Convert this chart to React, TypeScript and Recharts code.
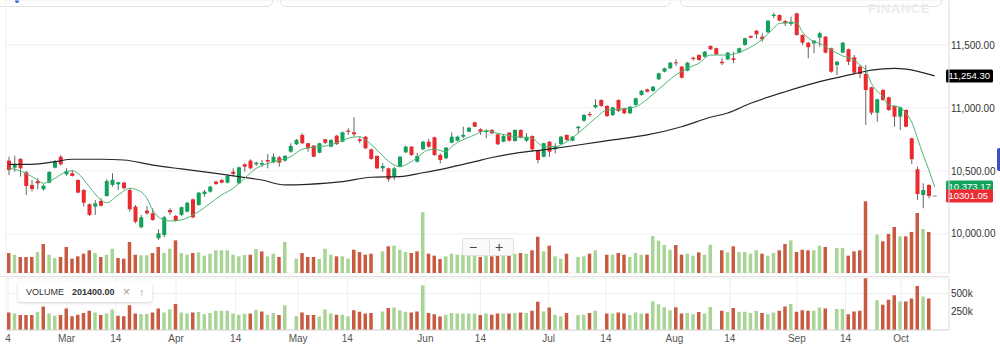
import React from 'react';
import {
  ComposedChart,
  Bar,
  Line,
  XAxis,
  YAxis,
  CartesianGrid,
  ReferenceLine,
  Cell,
} from 'recharts';

// daily candles, index 0 = first visible session (mid Feb)
const opens = [
  10582, 10526, 10595, 10490, 10389, 10420, 10355, 10407, 10526, 10613,
  10474, 10482, 10428, 10349, 10236, 10217, 10262, 10301, 10389, 10394,
  10407, 10349, 10217, 10053, 10185, 10164, 9966, 9992, 10190, 10143,
  10151, 10177, 10275, 10230, 10317, 10336, 10415, 10428, 10407, 10494,
  10402, 10553, 10582, 10553, 10550, 10587, 10569, 10608, 10582, 10653,
  10712, 10786, 10720, 10701, 10645, 10751, 10693, 10780, 10732, 10820,
  10807, 10751, 10772, 10672, 10619, 10521, 10521, 10455, 10534, 10648,
  10693, 10574, 10672, 10732, 10767, 10627, 10601, 10724, 10740, 10772,
  10812, 10886, 10831, 10809, 10825, 10791, 10732, 10804, 10738, 10825,
  10740, 10777, 10659, 10613, 10732, 10672, 10714, 10786, 10740, 10839,
  10899, 10952, 11005, 11063, 11016, 10944, 11063, 10997, 10958, 11024,
  11103, 11148, 11135, 11228, 11288, 11315, 11362, 11328, 11296, 11399,
  11420, 11407, 11492, 11474, 11367, 11386, 11394, 11439, 11500, 11571,
  11613, 11566, 11601, 11730, 11738, 11690, 11667, 11751, 11579, 11518,
  11513, 11558, 11566, 11474, 11341, 11439, 11466, 11402, 11328, 11270,
  11164, 10962, 11143, 11085, 11016, 10931, 10984, 10759, 10513, 10309,
  10389, 10301.05,
];
const highs = [
  10613, 10621, 10603, 10500, 10428, 10442, 10394, 10498, 10587, 10627,
  10521, 10508, 10434, 10357, 10243, 10270, 10283, 10434, 10482, 10415,
  10415, 10363, 10230, 10151, 10222, 10204, 10037, 10143, 10204, 10151,
  10217, 10254, 10280, 10333, 10349, 10381, 10423, 10436, 10468, 10521,
  10534, 10561, 10593, 10574, 10587, 10635, 10640, 10619, 10627, 10720,
  10754, 10799, 10724, 10706, 10724, 10756, 10751, 10786, 10812, 10839,
  10926, 10772, 10778, 10677, 10624, 10561, 10526, 10534, 10619, 10701,
  10698, 10643, 10740, 10754, 10772, 10640, 10690, 10807, 10780, 10851,
  10849, 10891, 10839, 10831, 10833, 10796, 10786, 10809, 10831, 10831,
  10799, 10783, 10664, 10724, 10738, 10720, 10778, 10791, 10778, 10859,
  10952, 10970, 11069, 11069, 11021, 11010, 11069, 11002, 11016, 11082,
  11143, 11153, 11174, 11280, 11320, 11365, 11386, 11333, 11365, 11407,
  11426, 11452, 11497, 11479, 11394, 11444, 11447, 11479, 11558, 11577,
  11619, 11593, 11698, 11756, 11743, 11698, 11725, 11756, 11585, 11524,
  11539, 11605, 11571, 11479, 11373, 11524, 11471, 11420, 11341, 11341,
  11169, 11074, 11148, 11090, 11021, 11010, 10989, 10764, 10534, 10402,
  10394, 10301.05,
];
const lows = [
  10468, 10494, 10455, 10309, 10336, 10355, 10344, 10402, 10521, 10542,
  10462, 10455, 10323, 10217, 10143, 10151, 10217, 10296, 10375, 10349,
  10355, 10177, 10085, 10045, 10151, 10105, 9952, 9974, 10151, 10097,
  10143, 10172, 10124, 10224, 10296, 10328, 10389, 10402, 10402, 10455,
  10397, 10494, 10513, 10539, 10534, 10521, 10561, 10534, 10574, 10645,
  10706, 10714, 10653, 10608, 10640, 10714, 10688, 10706, 10728, 10786,
  10772, 10720, 10674, 10589, 10516, 10494, 10415, 10428, 10529, 10643,
  10619, 10566, 10666, 10682, 10619, 10561, 10595, 10720, 10735, 10759,
  10807, 10847, 10786, 10759, 10793, 10706, 10728, 10735, 10732, 10759,
  10732, 10653, 10561, 10608, 10613, 10640, 10709, 10738, 10735, 10804,
  10891, 10931, 10997, 11008, 10928, 10936, 10968, 10952, 10952, 11018,
  11097, 11124, 11129, 11222, 11283, 11309, 11333, 11235, 11291, 11375,
  11375, 11402, 11460, 11420, 11341, 11381, 11355, 11434, 11494, 11553,
  11553, 11526, 11595, 11712, 11688, 11651, 11651, 11574, 11500, 11394,
  11434, 11486, 11434, 11280, 11262, 11434, 11341, 11270, 11236, 10865,
  10944, 10891, 11058, 10978, 10851, 10825, 10847, 10555, 10270, 10204,
  10283, 10301.05,
];
const closes = [
  10508, 10547, 10521, 10381, 10357, 10402, 10383, 10492, 10579, 10553,
  10500, 10460, 10328, 10248, 10151, 10243, 10224, 10420, 10430, 10410,
  10363, 10196, 10097, 10132, 10164, 10111, 10005, 10132, 10172, 10105,
  10212, 10248, 10132, 10328, 10336, 10375, 10397, 10407, 10460, 10476,
  10529, 10534, 10521, 10566, 10562, 10574, 10613, 10566, 10619, 10698,
  10746, 10720, 10680, 10613, 10720, 10724, 10746, 10714, 10807, 10810,
  10791, 10738, 10680, 10595, 10521, 10539, 10434, 10521, 10613, 10693,
  10627, 10619, 10732, 10693, 10627, 10587, 10685, 10772, 10772, 10786,
  10843, 10851, 10812, 10820, 10799, 10712, 10777, 10740, 10825, 10764,
  10772, 10672, 10587, 10720, 10653, 10698, 10772, 10746, 10772, 10851,
  10944, 10942, 11024, 11016, 10936, 11005, 10976, 10958, 11010, 11077,
  11137, 11129, 11169, 11275, 11315, 11359, 11355, 11240, 11359, 11389,
  11381, 11447, 11466, 11426, 11355, 11439, 11381, 11474, 11553, 11558,
  11585, 11545, 11693, 11740, 11693, 11672, 11685, 11579, 11518, 11482,
  11534, 11593, 11439, 11288, 11367, 11518, 11367, 11280, 11270, 11143,
  10962, 11069, 11063, 10984, 10931, 11005, 10851, 10593, 10317, 10349,
  10301.05, 10301.05,
];
// volume in thousands, null = no bar printed
const volumes = [
  240, 225, 204, 204, 204, 249, 322, 225, 195, 204,
  295, 189, 210, 234, 265, 240, 204, 225, 279, 195,
  189, 340, 225, 219, 219, 240, 295, 240, 279, 355,
  240, 225, 240, 246, 216, 234, 265, 265, 265, 225,
  210, 222, 225, 277, 255, 210, 234, 204, 340, null,
  189, 240, 204, 204, 186, 279, 225, 210, 210, 189,
  270, 249, 225, 234, null, 255, 301, 307, 270, 249,
  240, 255, 610, 234, 216, 186, 210, 234, 225, 225,
  225, 225, 204, 225, 210, 225, 225, 225, 234, 240,
  234, 265, 388, 255, 307, 210, 189, 234, null, 204,
  210, 234, 265, null, 225, 225, 240, 225, 204, 240,
  225, 225, 394, 352, 313, 270, 313, 225, 234, 216,
  246, 225, 316, null, 265, 246, 301, 249, 249, 234,
  265, 234, 216, 240, 265, 322, 355, 249, 270, 265,
  265, 307, 295, null, 286, 286, 216, 255, 265, 709,
  null, 406, 346, 413, 476, 391, 391, 431, 603, 458,
  431, null,
];
const emaPoints: [number, number][] = [
  [0, 10524], [3, 10481], [5, 10428], [6, 10402], [8, 10442], [10, 10494], [11, 10502],
  [12, 10481], [14, 10375], [16, 10270], [17, 10248], [19, 10309], [21, 10362], [22, 10355],
  [24, 10283], [25, 10190], [27, 10111], [28, 10103], [30, 10111], [32, 10151], [33, 10177],
  [35, 10243], [37, 10309], [39, 10362], [41, 10442], [43, 10520], [46, 10572], [49, 10613],
  [51, 10672], [53, 10688], [56, 10706], [59, 10759], [61, 10772], [62, 10746], [65, 10622],
  [66, 10578], [68, 10534], [70, 10574], [73, 10667], [74, 10672], [76, 10653], [77, 10693],
  [81, 10786], [83, 10820], [85, 10799], [88, 10772], [91, 10759], [93, 10693], [95, 10693],
  [97, 10732], [99, 10799], [102, 10918], [104, 10984], [106, 10989], [109, 11010], [111, 11069],
  [113, 11148], [116, 11262], [118, 11315], [120, 11355], [122, 11420], [125, 11420], [128, 11460],
  [131, 11545], [133, 11632], [134, 11672], [136, 11677], [137, 11677], [138, 11605], [140, 11526],
  [141, 11513], [143, 11460], [145, 11413], [147, 11381], [148, 11341], [149, 11301], [150, 11196],
  [152, 11089], [153, 11024], [155, 11005], [156, 10958], [157, 10889], [158, 10762], [159, 10629],
  [160, 10508], [161, 10373.17],
];
const smaPoints: [number, number][] = [
  [0, 10553], [4, 10553], [8, 10574], [11, 10593], [16, 10593], [20, 10587], [25, 10547],
  [30, 10516], [36, 10481], [40, 10455], [44, 10428], [48, 10389], [52, 10394], [58, 10415],
  [63, 10450], [68, 10455], [72, 10486], [76, 10521], [81, 10574], [84, 10607], [88, 10640],
  [94, 10674], [99, 10706], [105, 10746], [111, 10786], [117, 10851], [122, 10926], [125, 10960],
  [129, 11037], [135, 11129], [141, 11209], [147, 11270], [150, 11301], [154, 11315], [156, 11309],
  [161, 11254.3],
];
const tickPos = [0.37, 10.46, 18.98, 29.4, 39.7, 50.5, 59.0, 72.5, 82.0, 93.8, 103.7, 115.55, 125.1, 136.7, 145.1, 154.7];
const tickLabels = ['4', 'Mar', '14', 'Apr', '14', 'May', '14', 'Jun', '14', 'Jul', '14', 'Aug', '14', 'Sep', '14', 'Oct'];
const priceTicks = [10000, 10500, 11000, 11500];
const volTicks = [250, 500];

const SLOTS = 164; // two empty slots on the right, like the original
const FONT = "'Liberation Sans', Arial, Helvetica, sans-serif";
const UP = '#10a15a';
const DOWN = '#ea2a2f';
const VOL_UP = '#a8d596';
const VOL_DOWN = '#c85a42';

const emaMap = new Map(emaPoints);
const smaMap = new Map(smaPoints);

const rows = Array.from({ length: SLOTS }, (_, i) => ({
  i,
  o: opens[i] ?? null,
  h: highs[i] ?? null,
  l: lows[i] ?? null,
  c: closes[i] ?? null,
  vol: volumes[i] ?? null,
  ema: emaMap.get(i) ?? null,
  sma: smaMap.get(i) ?? null,
}));

const volColor = (i: number) => {
  if (closes[i] == null) return VOL_UP;
  const prev = i === 0 ? opens[0] : closes[i - 1];
  return closes[i] >= prev ? VOL_UP : VOL_DOWN;
};

const fmtPrice = (v: number) =>
  v.toLocaleString('en-US', { minimumFractionDigits: 2, maximumFractionDigits: 2 });

const Candle = (props: any) => {
  const { x, y, width, height, payload } = props;
  if (payload == null || payload.o == null) return null;
  const { o, h, l, c } = payload;
  const cx = x + width / 2;
  const top = Math.min(y, y + height);
  const bottom = Math.max(y, y + height);
  const range = h - l;
  if (range === 0) {
    return <line x1={cx - 2} x2={cx + 2} y1={top} y2={top} stroke="#888" strokeWidth={1} />;
  }
  const py = (v: number) => top + ((h - v) / range) * (bottom - top);
  const bTop = py(Math.max(o, c));
  const bBot = py(Math.min(o, c));
  return (
    <g>
      <line x1={cx} x2={cx} y1={top} y2={bottom} stroke="#666" strokeWidth={1} />
      <rect x={cx - 2} y={bTop} width={4} height={Math.max(1, bBot - bTop)} fill={c >= o ? UP : DOWN} />
    </g>
  );
};

const priceTag = (text: string, fill: string) => (props: any) => {
  const vb = props.viewBox;
  if (!vb) return null;
  const x = vb.x + vb.width - 3;
  const y = vb.y;
  return (
    <g>
      <rect x={x} y={y - 6.5} width={47} height={13} rx={1.5} fill={fill} />
      <text x={x + 2.5} y={y + 3.4} fill="#fff" fontSize={9.5} fontFamily={FONT}>
        {text}
      </text>
    </g>
  );
};

export default function App() {
  return (
    <div
      style={{
        position: 'absolute',
        top: 0,
        left: 0,
        width: 1000,
        height: 354,
        overflow: 'hidden',
        background: '#fff',
        fontFamily: FONT,
      }}
    >
      {/* toolbar edges peeking in at the top */}
      <div style={{ position: 'absolute', left: -10, top: -20, width: 281, height: 25, border: '1px solid #e2e2e2', borderRadius: 6 }} />
      <div style={{ position: 'absolute', left: 280, top: -20, width: 389, height: 25, border: '1px solid #e2e2e2', borderRadius: 6 }} />
      <div style={{ position: 'absolute', left: 680, top: -20, width: 260, height: 25, border: '1px solid #e2e2e2', borderRadius: 6 }} />
      <div style={{ position: 'absolute', left: 15, top: -2, width: 4, height: 5, borderRadius: 2, background: '#1e6fe0' }} />
      <div style={{ position: 'absolute', left: 868, top: 1, fontSize: 13, fontWeight: 700, color: '#ececec', letterSpacing: 0.6 }}>
        FINANCE
      </div>

      <div style={{ position: 'absolute', left: 0, top: 0 }}>
        <ComposedChart width={1000} height={276} data={rows} margin={{ top: 0, right: 0, bottom: 3, left: 6 }}>
          <XAxis xAxisId="c" dataKey="i" type="category" orientation="top" height={0} hide />
          <XAxis xAxisId="v" dataKey="i" type="category" orientation="top" height={0} hide />
          <XAxis
            xAxisId="t"
            type="number"
            domain={[-0.5, SLOTS - 0.5]}
            ticks={tickPos}
            height={0}
            tick={false}
            tickLine={false}
            axisLine={false}
            interval={0}
          />
          <YAxis
            yAxisId="p"
            orientation="right"
            width={51}
            domain={[9690, 11857]}
            allowDataOverflow
            ticks={priceTicks}
            tickFormatter={fmtPrice}
            tick={{ fontSize: 10, fill: '#333', fontFamily: FONT }}
            tickLine={false}
            tickSize={0}
            tickMargin={2}
            axisLine={{ stroke: '#e2e2e2' }}
          />
          <YAxis yAxisId="vol" hide domain={[59, 2534]} allowDataOverflow />
          <CartesianGrid xAxisId="t" yAxisId="p" stroke="#efefef" />
          <Bar xAxisId="v" yAxisId="vol" dataKey="vol" barSize={3.5} isAnimationActive={false}>
            {rows.map((r) => (
              <Cell key={`mv-${r.i}`} fill={volColor(r.i)} />
            ))}
          </Bar>
          <Bar
            xAxisId="c"
            yAxisId="p"
            dataKey={(d: any) => (d.o == null ? null : [d.l, d.h])}
            barSize={4}
            shape={Candle}
            isAnimationActive={false}
          />
          <Line
            xAxisId="c"
            yAxisId="p"
            dataKey="sma"
            type="monotone"
            connectNulls
            dot={false}
            stroke="#262626"
            strokeWidth={1.2}
            isAnimationActive={false}
          />
          <Line
            xAxisId="c"
            yAxisId="p"
            dataKey="ema"
            type="monotone"
            connectNulls
            dot={false}
            stroke="#4cb573"
            strokeWidth={1}
            isAnimationActive={false}
          />
          <ReferenceLine yAxisId="p" xAxisId="t" y={11254.3} strokeOpacity={0} label={priceTag('11,254.30', '#000')} />
          <ReferenceLine yAxisId="p" xAxisId="t" y={10373.17} strokeOpacity={0} label={priceTag('10,373.17', '#12a35c')} />
          <ReferenceLine yAxisId="p" xAxisId="t" y={10301.05} strokeOpacity={0} label={priceTag('10301.05', '#ec2b33')} />
        </ComposedChart>
      </div>

      {/* zoom control */}
      <div
        style={{
          position: 'absolute',
          left: 462,
          top: 238,
          width: 50,
          height: 16,
          border: '1px solid #e0e0e0',
          borderRadius: 3,
          background: 'rgba(250,250,250,0.95)',
          fontSize: 14,
          color: '#444',
          lineHeight: '16px',
        }}
      >
        <span style={{ position: 'absolute', left: 6 }}>−</span>
        <span style={{ position: 'absolute', left: 26, top: 1, width: 1, height: 14, background: '#ddd' }} />
        <span style={{ position: 'absolute', left: 32 }}>+</span>
      </div>
      <div style={{ position: 'absolute', left: 997, top: 148, width: 5, height: 23, borderRadius: 2, background: '#3d4fc4' }} />

      <div style={{ position: 'absolute', left: 0, top: 276, width: 949, height: 1, background: '#e2e2e2' }} />

      <div style={{ position: 'absolute', left: 0, top: 276 }}>
        <ComposedChart width={1000} height={78} data={rows} margin={{ top: 2, right: 0, bottom: 0, left: 6 }}>
          <XAxis xAxisId="c" dataKey="i" type="category" orientation="top" height={0} hide />
          <XAxis
            xAxisId="t"
            type="number"
            domain={[-0.5, SLOTS - 0.5]}
            ticks={tickPos}
            tickFormatter={(v: number) => tickLabels[tickPos.indexOf(v)] ?? ''}
            tick={{ fontSize: 10, fill: '#555', fontFamily: FONT }}
            tickLine={false}
            tickSize={0}
            tickMargin={5}
            axisLine={{ stroke: '#d8d8d8' }}
            height={24}
            interval={0}
          />
          <YAxis
            yAxisId="v"
            orientation="right"
            width={51}
            domain={[0, 712]}
            allowDataOverflow
            ticks={volTicks}
            tickFormatter={(v: number) => `${v}k`}
            tick={{ fontSize: 10, fill: '#333', fontFamily: FONT }}
            tickLine={false}
            tickSize={0}
            tickMargin={2}
            axisLine={{ stroke: '#e2e2e2' }}
          />
          <CartesianGrid xAxisId="t" yAxisId="v" stroke="#efefef" />
          <Bar xAxisId="c" yAxisId="v" dataKey="vol" barSize={3.5} isAnimationActive={false}>
            {rows.map((r) => (
              <Cell key={`lv-${r.i}`} fill={volColor(r.i)} />
            ))}
          </Bar>
        </ComposedChart>
      </div>

      {/* volume legend */}
      <div
        style={{
          position: 'absolute',
          left: 18,
          top: 282,
          width: 134,
          height: 20,
          background: '#fff',
          borderRadius: 3,
          boxShadow: '0 1px 3px rgba(0,0,0,0.18)',
          fontSize: 9,
          color: '#333',
          lineHeight: '20px',
        }}
      >
        <span style={{ position: 'absolute', left: 8 }}>VOLUME</span>
        <span style={{ position: 'absolute', left: 54, fontWeight: 700 }}>201400.00</span>
        <span style={{ position: 'absolute', left: 105, color: '#999', fontSize: 12 }}>×</span>
        <span style={{ position: 'absolute', left: 121, color: '#aaa', fontSize: 11 }}>↑</span>
      </div>
    </div>
  );
}
